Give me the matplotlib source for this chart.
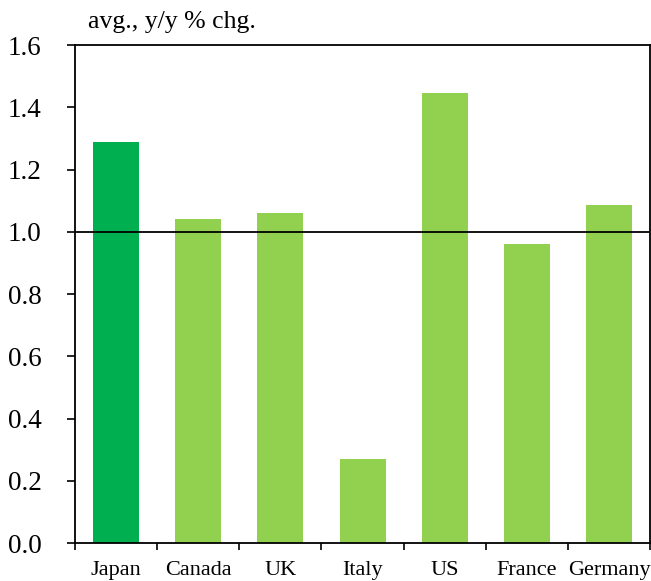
import numpy as np
import matplotlib.pyplot as plt

countries = ['Japan', 'Canada', 'UK', 'Italy', 'US', 'France', 'Germany']
values = [1.29, 1.04, 1.06, 0.27, 1.445, 0.96, 1.086]
colors = ['#00B050'] + ['#92D050'] * 6

plt.rcParams['font.family'] = 'Liberation Serif'

fig = plt.figure(figsize=(6.51, 5.81), dpi=100)
ax = fig.add_axes([0.1152, 0.0654, 0.8833, 0.8571])

x = np.arange(len(countries))
ax.bar(x, values, width=0.56, color=colors)
ax.axhline(1.0, color='black', lw=1.3)

ax.set_xlim(-0.5, len(countries) - 0.5)
ax.set_ylim(0, 1.6)
ax.set_yticks(np.arange(0, 1.61, 0.2))
ax.set_yticklabels(['%.1f' % v for v in np.arange(0, 1.61, 0.2)], fontsize=19.5)
ax.set_xticks(x)
ax.set_xticklabels(countries, fontsize=16)
ax.set_xticks(np.arange(-0.5, len(countries)), minor=True)
ax.tick_params(axis='x', which='major', length=0, pad=13)
ax.tick_params(axis='x', which='minor', length=5, width=1.2, direction='out')
ax.tick_params(axis='y', length=6, width=1.2, direction='out', pad=18)
for s in ax.spines.values():
    s.set_linewidth(1.3)

fig.text(0.135, 0.962, 'avg., y/y % chg.', fontsize=18.5, ha='left', va='center')

fig.savefig('out.png')
